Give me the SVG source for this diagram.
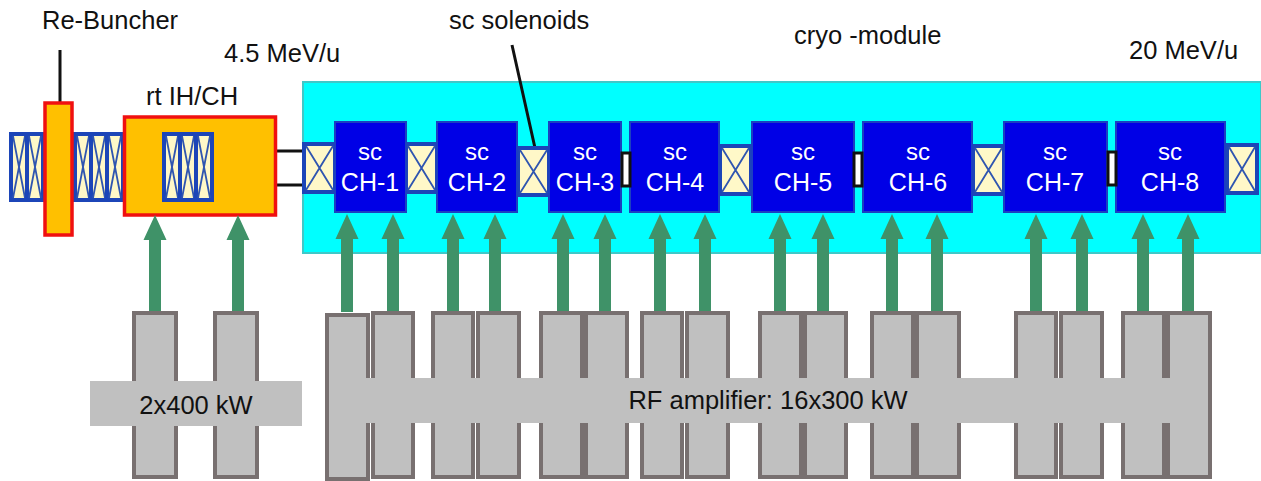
<svg xmlns="http://www.w3.org/2000/svg" width="1261" height="481" viewBox="0 0 1261 481">
<style>
text{font-family:"Liberation Sans",Arial,sans-serif;fill:#111}
.lbl{font-size:25.500px}
.y{fill:#FFC000;stroke:#F01010;stroke-width:3.500}
.ch{fill:#0000E6;stroke:#1C3FC0;stroke-width:2}
.sol{fill:#FFF8C8;stroke:#1C45B8;stroke-width:4}
.x{stroke:#2F55B0;stroke-width:1.800;fill:none}
.amp{fill:#C0C0C0;stroke:#787070;stroke-width:4}
.bar{fill:#C0C0C0}
.w1{font-size:24px;fill:#fff;text-anchor:middle}
.w2{font-size:25px;fill:#fff;text-anchor:middle}
.gap{fill:#fff;stroke:#111;stroke-width:3}
.line{stroke:#111;stroke-width:3;fill:none}
</style>
<defs>
<symbol id="s3" overflow="visible"><rect class="sol" x="0" y="0" width="16" height="66"/><path class="x" d="M2 2L14 64M14 2L2 64"/></symbol>
<path id="arrow" d="M-6 98V25H-11.500L0 0L11.500 25H6V98Z" fill="#3F9268"/>
</defs>
<rect id="cryo" x="303" y="82" width="958" height="171" fill="#00FFFF" stroke="#3FC8C8" stroke-width="2"/>
<g id="connectors">
<path class="line" d="M60 50V102M512 45L535 148M277 151H304M277 185H304"/>
</g>
<g id="solenoid-left">
<use href="#s3" x="11" y="134"/><use href="#s3" x="27" y="134"/>
<use href="#s3" x="75" y="134"/><use href="#s3" x="91" y="134"/><use href="#s3" x="107" y="134"/>
</g>
<g id="re-buncher"><rect class="y" x="45" y="103" width="27" height="132"/><text class="lbl" x="42" y="29">Re-Buncher</text></g>
<g id="rt-ihch">
<rect class="y" x="124.500" y="117" width="151" height="98"/>
<use href="#s3" x="164" y="134"/><use href="#s3" x="180" y="134"/><use href="#s3" x="196" y="134"/>
<text class="lbl" x="146" y="105">rt IH/CH</text>
</g>
<g id="solenoids">
<g><rect class="sol" x="304" y="144" width="31" height="48"/><path class="x" d="M306 146L333 190M333 146L306 190"/></g>
<g><rect class="sol" x="406" y="144" width="31" height="48"/><path class="x" d="M408 146L435 190M435 146L408 190"/></g>
<g><rect class="sol" x="518" y="148" width="31" height="47"/><path class="x" d="M520 150L547 193M547 150L520 193"/></g>
<g><rect class="sol" x="720" y="146" width="31" height="48"/><path class="x" d="M722 148L749 192M749 148L722 192"/></g>
<g><rect class="sol" x="973" y="146" width="31" height="48"/><path class="x" d="M975 148L1002 192M1002 148L975 192"/></g>
<g><rect class="sol" x="1227" y="145" width="30" height="48"/><path class="x" d="M1229 147L1255 191M1255 147L1229 191"/></g>
</g>
<g id="ch-1"><rect class="ch" x="335" y="122" width="71" height="90"/><text class="w1" x="370" y="160">sc</text><text class="w2" x="370" y="191">CH-1</text></g>
<g id="ch-2"><rect class="ch" x="437" y="122" width="80" height="90"/><text class="w1" x="477" y="160">sc</text><text class="w2" x="477" y="191">CH-2</text></g>
<g id="ch-3"><rect class="ch" x="549" y="122" width="72" height="90"/><text class="w1" x="585" y="160">sc</text><text class="w2" x="585" y="191">CH-3</text></g>
<g id="ch-4"><rect class="ch" x="630" y="122" width="89" height="90"/><text class="w1" x="675" y="160">sc</text><text class="w2" x="675" y="191">CH-4</text></g>
<g id="ch-5"><rect class="ch" x="752" y="122" width="102" height="90"/><text class="w1" x="803" y="160">sc</text><text class="w2" x="803" y="191">CH-5</text></g>
<g id="ch-6"><rect class="ch" x="863" y="122" width="109" height="90"/><text class="w1" x="918" y="160">sc</text><text class="w2" x="918" y="191">CH-6</text></g>
<g id="ch-7"><rect class="ch" x="1004" y="122" width="103" height="90"/><text class="w1" x="1055" y="160">sc</text><text class="w2" x="1055" y="191">CH-7</text></g>
<g id="ch-8"><rect class="ch" x="1116" y="122" width="109" height="90"/><text class="w1" x="1170" y="160">sc</text><text class="w2" x="1170" y="191">CH-8</text></g>
<g id="gaps">
<rect class="gap" x="622" y="153" width="8" height="33"/>
<rect class="gap" x="854" y="153" width="8" height="33"/>
<rect class="gap" x="1108" y="152" width="8" height="33"/>
</g>
<g id="arrows">
<use href="#arrow" x="155" y="215"/><use href="#arrow" x="238" y="215"/>
<use href="#arrow" x="347" y="214"/><use href="#arrow" x="393" y="214"/><use href="#arrow" x="453" y="214"/><use href="#arrow" x="495" y="214"/>
<use href="#arrow" x="563" y="214"/><use href="#arrow" x="605" y="214"/><use href="#arrow" x="660" y="214"/><use href="#arrow" x="705" y="214"/>
<use href="#arrow" x="780" y="214"/><use href="#arrow" x="823" y="214"/><use href="#arrow" x="892" y="214"/><use href="#arrow" x="937" y="214"/>
<use href="#arrow" x="1036" y="214"/><use href="#arrow" x="1082" y="214"/><use href="#arrow" x="1143" y="214"/><use href="#arrow" x="1188" y="214"/>
</g>
<g id="amp-left">
<rect class="amp" x="134" y="313" width="42" height="164"/><rect class="amp" x="215" y="313" width="42" height="164"/>
<rect class="bar" x="90" y="381" width="212" height="45"/>
<text x="196" y="414" font-size="25.500" text-anchor="middle">2x400 kW</text>
</g>
<g id="amp-right">
<rect class="amp" x="327" y="315" width="41" height="164"/>
<rect class="amp" x="373" y="313" width="40" height="164"/><rect class="amp" x="433" y="313" width="40" height="164"/><rect class="amp" x="478" y="313" width="41" height="164"/>
<rect class="amp" x="541" y="313" width="41" height="164"/><rect class="amp" x="586" y="313" width="41" height="164"/><rect class="amp" x="642" y="313" width="40" height="164"/><rect class="amp" x="687" y="313" width="41" height="164"/>
<rect class="amp" x="760" y="313" width="41" height="164"/><rect class="amp" x="805" y="313" width="41" height="164"/><rect class="amp" x="872" y="313" width="41" height="164"/><rect class="amp" x="917" y="313" width="42" height="164"/>
<rect class="amp" x="1016" y="313" width="40" height="164"/><rect class="amp" x="1061" y="313" width="41" height="164"/><rect class="amp" x="1123" y="313" width="41" height="164"/><rect class="amp" x="1168" y="313" width="42" height="164"/>
<rect class="bar" x="329" y="378" width="879" height="45"/>
<text x="768" y="409" font-size="25.500" text-anchor="middle">RF amplifier: 16x300 kW</text>
</g>
<g id="labels">
<text class="lbl" x="224" y="62">4.5 MeV/u</text>
<text class="lbl" x="449" y="29">sc solenoids</text>
<text class="lbl" x="794" y="44">cryo -module</text>
<text class="lbl" x="1129" y="59">20 MeV/u</text>
</g>
</svg>
